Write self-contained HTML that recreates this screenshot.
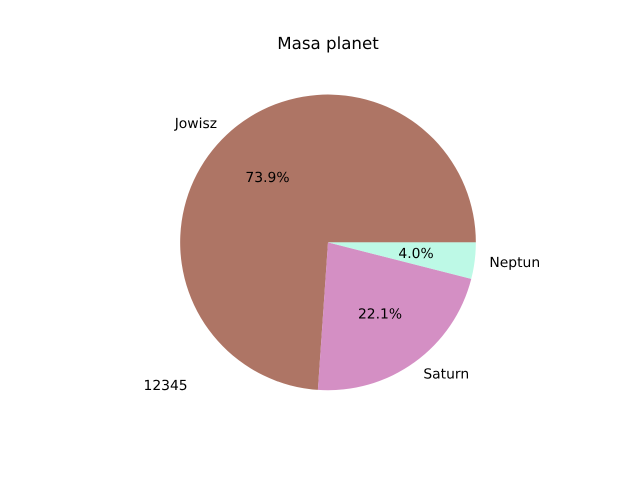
<!DOCTYPE html>
<html>
<head>
<meta charset="utf-8">
<style>
html,body{margin:0;padding:0;background:#fff;}
svg{display:block;}
text{font-family:"DejaVu Sans",sans-serif;font-size:13.89px;fill:#000;text-rendering:geometricPrecision;}
</style>
</head>
<body>
<svg id="chart" width="640" height="480" viewBox="0 0 640 480" xmlns="http://www.w3.org/2000/svg">
<text x="328" y="49" text-anchor="middle" style="font-size:16.67px">Masa planet</text>
<text x="143.5" y="390">12345</text>
</svg>
<script>
const categories = ['Jowisz', 'Saturn', 'Neptun'];
const masses = [1898, 568, 102];
const colors = ['#ae7565', '#d48fc4', '#bdf9e6'];

const svg = document.getElementById('chart');
const NS = 'http://www.w3.org/2000/svg';
const cx = 328, cy = 242.4, r = 147.84;
const baselineShift = 4.43;
const total = masses.reduce(function (a, b) { return a + b; }, 0);
function angleOf(v) { return v / total * 2 * Math.PI; }
function px(a, k) { return cx + k * r * Math.cos(a); }
function py(a, k) { return cy - k * r * Math.sin(a); }

let start = 0;
const labelLayer = [];
masses.forEach(function (v, i) {
  const end = start + angleOf(v);
  const mid = (start + end) / 2;
  const large = end - start > Math.PI ? 1 : 0;
  const path = document.createElementNS(NS, 'path');
  path.setAttribute('d', 'M' + cx + ' ' + cy + 'L' + px(start, 1) + ' ' + py(start, 1) +
    'A' + r + ' ' + r + ' 0 ' + large + ' 0 ' + px(end, 1) + ' ' + py(end, 1) + 'Z');
  path.setAttribute('fill', colors[i]);
  
  
  svg.appendChild(path);

  const label = document.createElementNS(NS, 'text');
  label.setAttribute('x', px(mid, 1.1));
  label.setAttribute('y', py(mid, 1.1) + baselineShift);
  label.setAttribute('text-anchor', Math.cos(mid) < 0 ? 'end' : 'start');
  label.textContent = categories[i];
  
  
  labelLayer.push(label);

  const pct = document.createElementNS(NS, 'text');
  pct.setAttribute('x', px(mid, 0.6));
  pct.setAttribute('y', py(mid, 0.6) + baselineShift);
  pct.setAttribute('text-anchor', 'middle');
  pct.textContent = (v / total * 100).toFixed(1) + '%';
  
  
  labelLayer.push(pct);

  start = end;
});
labelLayer.forEach(function (t) { svg.appendChild(t); });
</script>
</body>
</html>
